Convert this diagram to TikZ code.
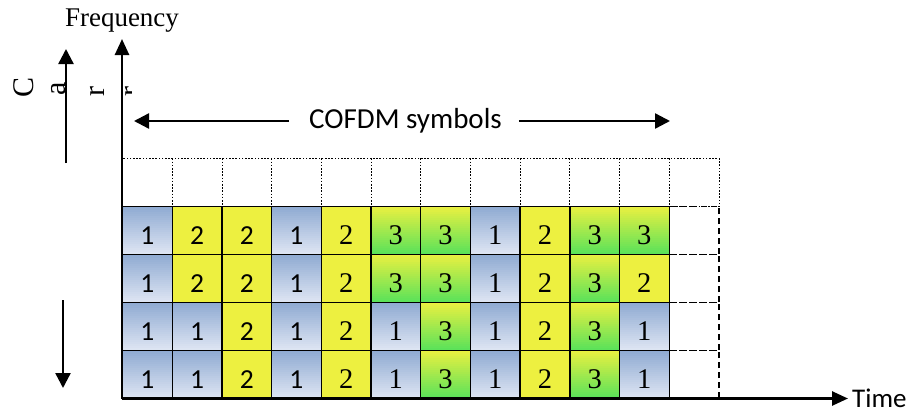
\documentclass[tikz,border=0pt]{standalone}
\usepackage{fontspec}
\setmainfont{Liberation Serif}
\newfontfamily\calib{Carlito}
\usetikzlibrary{arrows.meta}
\definecolor{blueDark}{RGB}{141,169,209}
\definecolor{blueLight}{RGB}{222,229,243}
\definecolor{cellYellow}{RGB}{237,240,64}
\definecolor{cellGreen}{RGB}{90,226,90}
\begin{document}
\begin{tikzpicture}[x=1pt,y=-1pt,
  axis/.style={line width=2.6pt,-{Triangle[length=16pt,width=14pt]}},
  arr/.style={line width=2.4pt,-{Triangle[length=15pt,width=15pt]}},
  cell/.style={draw,line width=1.4pt,minimum width=49.7pt,minimum height=48pt,
    inner sep=0pt,text height=29pt,text depth=0pt},
  spare/.style={draw,line width=1.4pt,dash pattern=on 6pt off 4pt,
    minimum width=49.7pt,minimum height=48pt,inner sep=0pt},
  slot/.style={line width=0.8pt,dash pattern=on 1.6pt off 1.6pt},
  letter/.style={rotate=90,anchor=base,font=\fontsize{30}{36}\selectfont,inner sep=0pt}]
\useasboundingbox (0,0) rectangle (914,413);

% empty slots above the filled grid
\draw[slot] (122.5,158.3) rectangle (718.9,206.3);
\foreach \c in {1,...,11}
  \draw[slot] ({122.5+\c*49.7},158.3) -- ({122.5+\c*49.7},206.3);

% spare dashed slots in the last column
\foreach \r in {1,...,4}
  \node[spare] (s\r) at ({694.05},{206.3+(\r-0.5)*48}) {};

% filled grid of user symbols: 1 = blue, 2 = yellow, 3 = yellow to green
\foreach \r/\vals in {1/{1,2,2,1,2,3,3,1,2,3,3},
                      2/{1,2,2,1,2,3,3,1,2,3,2},
                      3/{1,1,2,1,2,1,3,1,2,3,1},
                      4/{1,1,2,1,2,1,3,1,2,3,1}}{
  \foreach \v [count=\c] in \vals{
    \ifcase\v\or
      \def\topc{blueDark}\def\botc{blueLight}\or
      \def\topc{cellYellow}\def\botc{cellYellow}\or
      \def\topc{cellYellow}\def\botc{cellGreen}\fi
    \pgfmathsetmacro\xa{122.5+(\c-1)*49.7}
    \pgfmathsetmacro\ya{206.3+(\r-1)*48}
    % vertical gradient, top to bottom, in thin bands
    \foreach \k [evaluate=\k as \p using {100*(\k+0.5)/24}] in {0,...,23}
      \fill[fill={\botc!\p!\topc}] (\xa,{\ya+2*\k}) rectangle ({\xa+49.7},{\ya+2*\k+2.1});
    \node[cell] (c\r-\c) at ({\xa+24.85},{\ya+24})
      {\ifnum\c<5 \calib\fontsize{27.5}{32}\selectfont\else\fontsize{28.5}{33}\selectfont\fi\v};
  }
}

% axes
\coordinate (origin) at (122,398.5);
\coordinate (ftop) at (122,39);
\node[font=\fontsize{27}{32}\selectfont,inner sep=0pt] (freq) at (122,21) {Frequency};
\node[font=\calib\fontsize{27}{32}\selectfont,anchor=west,inner sep=0pt] (time) at (852,398.5) {Time};
\draw[axis] (origin) -- (ftop);
\draw[axis] (origin) -- ([xshift=-4pt]time.west);

% COFDM symbols span
\node[font=\calib\fontsize{29}{35}\selectfont,inner sep=0pt] (cofdm) at (405.5,121) {COFDM symbols};
\coordinate (cl) at (134,121);
\coordinate (cr) at (670,121);
\draw[arr] ([xshift=-20pt]cofdm.west) -- (cl);
\draw[arr] ([xshift=17pt]cofdm.east) -- (cr);

% carrier label, one letter per line
\node[letter] (l1) at (33,87) {C};
\node[letter] (l2) at (65,89) {a};
\node[letter] (l3) at (104,92) {r};
\begin{scope}
  \clip (124.5,80) rectangle (131,105);
  \node[letter] (l4) at (139,92) {r};
\end{scope}

% carrier direction arrows
\coordinate (up0) at (66,163);
\coordinate (up1) at (66,49);
\coordinate (dn0) at (63,300);
\coordinate (dn1) at (63,388);
\draw[arr] (up0) -- (up1);
\draw[arr] (dn0) -- (dn1);
\end{tikzpicture}
\end{document}
